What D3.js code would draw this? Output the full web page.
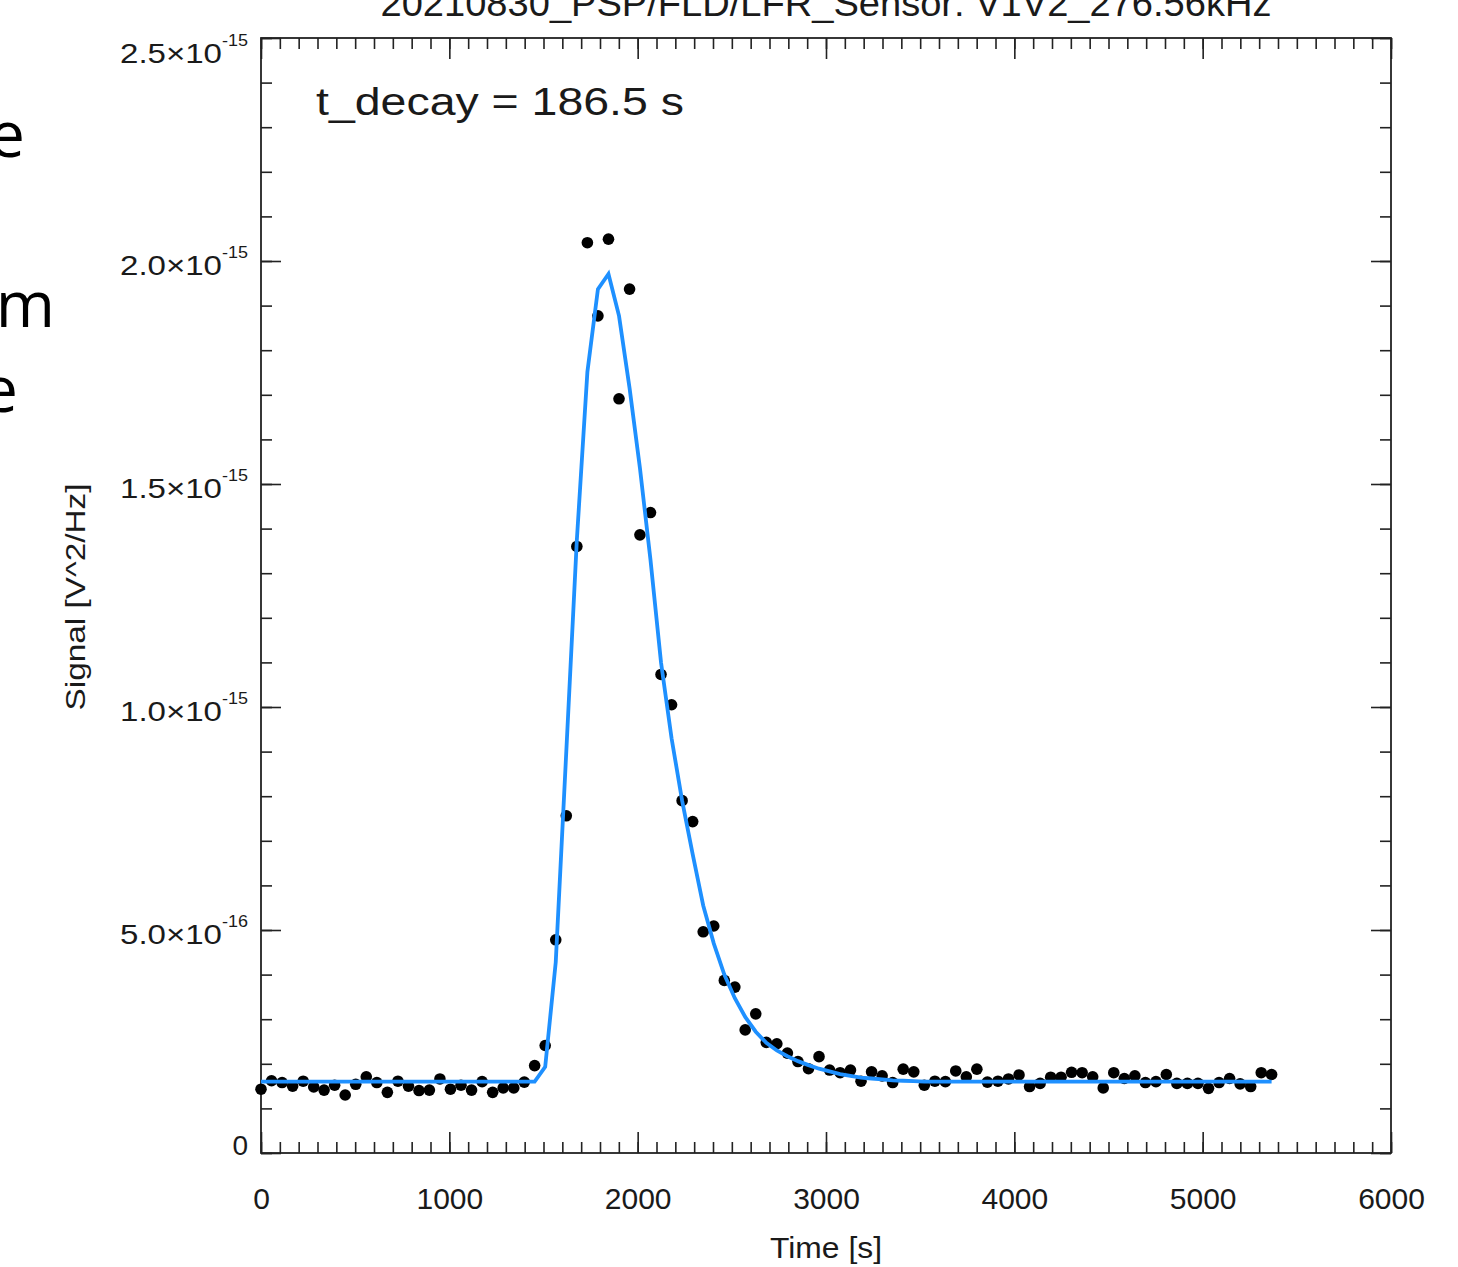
<!DOCTYPE html>
<html>
<head>
<meta charset="utf-8">
<script src="https://cdn.jsdelivr.net/npm/d3@7"></script>
<style>
  body { margin: 0; background: #fff; }
  text { font-family: "Liberation Sans", Arial, Helvetica, sans-serif; fill: #1a1a1a; }
  .axis path { display: none; }
  .axis line { stroke: #222; stroke-width: 1.6; }
</style>
</head>
<body>
<div class="chart"></div>
<script>
// sample times [s]
var times = [0, 56, 112, 168, 224, 280, 335, 391, 447, 503,
  559, 615, 671, 727, 783, 839, 894, 950, 1006, 1062,
  1118, 1174, 1230, 1286, 1342, 1398, 1453, 1509, 1565, 1621,
  1677, 1733, 1789, 1845, 1901, 1957, 2012, 2068, 2124, 2180,
  2236, 2292, 2348, 2404, 2460, 2516, 2571, 2627, 2683, 2739,
  2795, 2851, 2907, 2963, 3019, 3075, 3130, 3186, 3242, 3298,
  3354, 3410, 3466, 3522, 3578, 3634, 3689, 3745, 3801, 3857,
  3913, 3969, 4025, 4081, 4137, 4193, 4248, 4304, 4360, 4416,
  4472, 4528, 4584, 4640, 4696, 4752, 4807, 4863, 4919, 4975,
  5031, 5087, 5143, 5199, 5255, 5311, 5366];

// measured signal, units of 1e-16 V^2/Hz
var signal = [1.43, 1.62, 1.58, 1.50, 1.61, 1.48, 1.41, 1.52, 1.30, 1.54,
  1.71, 1.58, 1.36, 1.61, 1.50, 1.40, 1.41, 1.66, 1.43, 1.52,
  1.41, 1.60, 1.36, 1.46, 1.46, 1.59, 1.96, 2.41, 4.78, 7.56,
  13.6, 20.41, 18.77, 20.49, 16.91, 19.37, 13.86, 14.36, 10.73, 10.05,
  7.90, 7.43, 4.96, 5.09, 3.87, 3.72, 2.76, 3.12, 2.48, 2.45,
  2.24, 2.05, 1.89, 2.16, 1.86, 1.80, 1.86, 1.61, 1.82, 1.73,
  1.58, 1.88, 1.82, 1.52, 1.61, 1.60, 1.84, 1.71, 1.88, 1.59,
  1.61, 1.66, 1.75, 1.49, 1.56, 1.70, 1.70, 1.81, 1.80, 1.71,
  1.46, 1.80, 1.67, 1.73, 1.58, 1.60, 1.76, 1.56, 1.56, 1.56,
  1.45, 1.58, 1.67, 1.55, 1.49, 1.80, 1.76];

// fitted curve at the same times, units of 1e-16
var fit = [1.60, 1.60, 1.60, 1.60, 1.60, 1.60, 1.60, 1.60, 1.60, 1.60,
  1.60, 1.60, 1.60, 1.60, 1.60, 1.60, 1.60, 1.60, 1.60, 1.60,
  1.60, 1.60, 1.60, 1.60, 1.60, 1.60, 1.60, 1.93, 4.28, 9.00,
  13.74, 17.51, 19.37, 19.71, 18.77, 17.15, 15.36, 13.30, 11.00, 9.30,
  7.90, 6.70, 5.55, 4.70, 4.00, 3.47, 3.05, 2.72, 2.47, 2.30,
  2.17, 2.06, 1.97, 1.89, 1.83, 1.77, 1.73, 1.69, 1.67, 1.65,
  1.63, 1.62, 1.61, 1.60, 1.60, 1.60, 1.60, 1.60, 1.60, 1.60,
  1.60, 1.60, 1.60, 1.60, 1.60, 1.60, 1.60, 1.60, 1.60, 1.60,
  1.60, 1.60, 1.60, 1.60, 1.60, 1.60, 1.60, 1.60, 1.60, 1.60,
  1.60, 1.60, 1.60, 1.60, 1.60, 1.60, 1.60];

var xTicks = [0, 1000, 2000, 3000, 4000, 5000, 6000];
var yTicks = [0, 5, 10, 15, 20, 25];
var yTickMantissa = ["0", "5.0\u00d710", "1.0\u00d710", "1.5\u00d710", "2.0\u00d710", "2.5\u00d710"];
var yTickExponent = ["", "-16", "-15", "-15", "-15", "-15"];

var svgWidth = 1458;
var svgHeight = 1267;

var margin = {
  top: 38,
  right: 67,
  bottom: 114,
  left: 261
};

var width = svgWidth - margin.left - margin.right;
var height = svgHeight - margin.top - margin.bottom;

var svg = d3.select(".chart")
  .append("svg")
  .attr("width", svgWidth)
  .attr("height", svgHeight);

// slide text cut off at the left edge
var slideBits = [["e", 25, 157], ["m", 55, 327], ["e", 18, 412]];
svg.selectAll("text.slide")
  .data(slideBits)
  .enter()
  .append("text")
  .attr("class", "slide")
  .attr("x", d => d[1])
  .attr("y", d => d[2])
  .attr("text-anchor", "end")
  .style("font-family", "'Open Sans', 'Noto Sans', sans-serif")
  .style("font-size", "64px")
  .style("fill", "#000")
  .text(d => d[0]);

var chartGroup = svg.append("g")
  .attr("transform", `translate(${margin.left}, ${margin.top})`);

var xLinearScale = d3.scaleLinear().domain([0, 6000]).range([0, width]);
var yLinearScale = d3.scaleLinear().domain([0, 25]).range([height, 0]);

var xMinor = d3.range(0, 6001, 100);
var yMinor = d3.range(0, 25.01, 1);

function addAxis(axis, transform) {
  var g = chartGroup.append("g").attr("class", "axis");
  if (transform) g.attr("transform", transform);
  g.call(axis);
  return g;
}

// minor ticks on all four sides
addAxis(d3.axisBottom(xLinearScale).tickValues(xMinor).tickSize(-11).tickSizeOuter(0).tickFormat(""), `translate(0, ${height})`);
addAxis(d3.axisTop(xLinearScale).tickValues(xMinor).tickSize(-11).tickSizeOuter(0).tickFormat(""));
addAxis(d3.axisLeft(yLinearScale).tickValues(yMinor).tickSize(-11).tickSizeOuter(0).tickFormat(""));
addAxis(d3.axisRight(yLinearScale).tickValues(yMinor).tickSize(-11).tickSizeOuter(0).tickFormat(""), `translate(${width}, 0)`);

// major ticks
var xAxis = addAxis(d3.axisBottom(xLinearScale).tickValues(xTicks).tickSize(-21).tickSizeOuter(0)
  .tickPadding(35).tickFormat(d3.format("d")), `translate(0, ${height})`);
xAxis.attr("font-size", 30).attr("font-family", null);
xAxis.selectAll("text").style("fill", "#1a1a1a");
addAxis(d3.axisTop(xLinearScale).tickValues(xTicks).tickSize(-21).tickSizeOuter(0).tickFormat(""));
addAxis(d3.axisLeft(yLinearScale).tickValues(yTicks).tickSize(-20).tickSizeOuter(0).tickFormat(""));
addAxis(d3.axisRight(yLinearScale).tickValues(yTicks).tickSize(-20).tickSizeOuter(0).tickFormat(""), `translate(${width}, 0)`);

// frame
chartGroup.append("rect")
  .attr("width", width)
  .attr("height", height)
  .attr("fill", "none")
  .attr("stroke", "#222")
  .attr("stroke-width", 1.8);

// y tick labels with exponent
var yLab = chartGroup.selectAll("g.ylab")
  .data(yTicks)
  .enter()
  .append("g")
  .attr("class", "ylab")
  .attr("transform", function(d, i) {
    var off = 14;
    if (i === 0) off = 2;
    if (i === yTicks.length - 1) off = 25;
    return `translate(0, ${yLinearScale(d) + off})`;
  });

yLab.append("text")
  .attr("x", (d, i) => i === 0 ? -13 : -39)
  .attr("text-anchor", "end")
  .style("font-size", "28px")
  .attr("textLength", (d, i) => i === 0 ? null : 102)
  .attr("lengthAdjust", "spacingAndGlyphs")
  .text((d, i) => yTickMantissa[i]);

yLab.filter((d, i) => yTickExponent[i] !== "")
  .append("text")
  .attr("x", -39)
  .attr("y", -17)
  .style("font-size", "17px")
  .attr("textLength", 26)
  .attr("lengthAdjust", "spacingAndGlyphs")
  .text(d => yTickExponent[yTicks.indexOf(d)]);

// axis titles
chartGroup.append("text")
  .attr("x", width / 2)
  .attr("y", height + 105)
  .attr("text-anchor", "middle")
  .style("font-size", "30px")
  .attr("textLength", 112)
  .attr("lengthAdjust", "spacingAndGlyphs")
  .text("Time [s]");

chartGroup.append("text")
  .attr("transform", "rotate(-90)")
  .attr("x", -559)
  .attr("y", -176)
  .attr("text-anchor", "middle")
  .style("font-size", "27px")
  .attr("textLength", 227)
  .attr("lengthAdjust", "spacingAndGlyphs")
  .text("Signal [V^2/Hz]");

chartGroup.append("text")
  .attr("x", width / 2)
  .attr("y", -22)
  .attr("text-anchor", "middle")
  .style("font-size", "37px")
  .attr("textLength", 891)
  .attr("lengthAdjust", "spacingAndGlyphs")
  .text("20210830_PSP/FLD/LFR_Sensor: V1V2_276.56kHz");

chartGroup.append("text")
  .attr("x", 55)
  .attr("y", 77)
  .style("font-size", "38px")
  .attr("textLength", 368)
  .attr("lengthAdjust", "spacingAndGlyphs")
  .text("t_decay = 186.5 s");

// data points
var pts = times.map((t, i) => ({ t: t, s: signal[i], f: fit[i] }));

chartGroup.selectAll("circle")
  .data(pts)
  .enter()
  .append("circle")
  .attr("cx", d => xLinearScale(d.t))
  .attr("cy", d => yLinearScale(d.s))
  .attr("r", 5.8)
  .attr("fill", "#000");

// fitted curve
var fitLine = d3.line()
  .x(d => xLinearScale(d.t))
  .y(d => yLinearScale(d.f));

chartGroup.append("path")
  .datum(pts)
  .attr("d", fitLine)
  .attr("fill", "none")
  .attr("stroke", "#1e90ff")
  .attr("stroke-width", 3.8)
  .attr("stroke-linejoin", "miter");
</script>
</body>
</html>
